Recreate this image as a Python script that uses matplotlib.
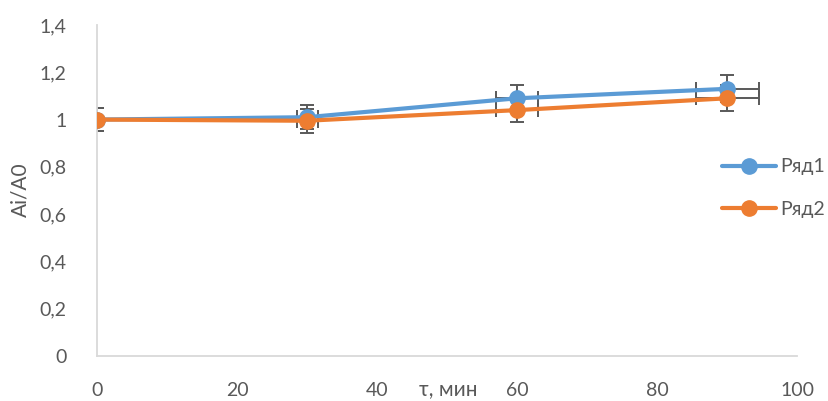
import numpy as np
import matplotlib as mpl
mpl.use('Agg')
import matplotlib.pyplot as plt
from matplotlib.ticker import FuncFormatter

# Measured ratio Ai/A0 over time
time_min = [0, 30, 60, 90]
series1 = [1.0, 1.01, 1.09, 1.13]
series2 = [1.0, 0.995, 1.04, 1.09]
series_names = ['Ряд1', 'Ряд2']
err_pct = 0.05  # 5% error bars on both axes

blue = '#5B9BD5'
orange = '#ED7D31'
text_col = '#595959'
axis_col = '#D9D9D9'

plt.rcParams['font.family'] = ['Lato', 'DejaVu Sans']

fig = plt.figure(figsize=(8.29, 4.01), dpi=100)
ax = fig.add_axes([97 / 829, 1 - 356 / 401, 700 / 829, 331 / 401])

for ys, col, name in [(series1, blue, series_names[0]), (series2, orange, series_names[1])]:
    x = np.array(time_min, dtype=float)
    y = np.array(ys)
    ax.errorbar(x, y, xerr=x * err_pct, yerr=y * err_pct, fmt='none',
                ecolor='#595959', elinewidth=1.4, capsize=5, capthick=1.4, zorder=2)
    ax.plot(x, y, color=col, lw=3, marker='o', ms=11, label=name,
            solid_capstyle='round', zorder=3)

ax.set_xlim(0, 100)
ax.set_ylim(0, 1.4)
ax.set_xticks(range(0, 101, 20))
ax.set_yticks(np.arange(0, 1.41, 0.2))

def comma_fmt(v, pos):
    s = ('%.1f' % v).rstrip('0').rstrip('.')
    return s.replace('.', ',')

ax.yaxis.set_major_formatter(FuncFormatter(comma_fmt))
ax.tick_params(axis='both', length=0, labelsize=14, colors=text_col)
ax.tick_params(axis='x', pad=19)
ax.tick_params(axis='y', pad=22)

for side in ['top', 'right']:
    ax.spines[side].set_visible(False)
for side in ['left', 'bottom']:
    ax.spines[side].set_color(axis_col)
    ax.spines[side].set_linewidth(1.3)

fig.text(448 / 829, 1 - 389 / 401, 'τ, мин', fontsize=15, color=text_col,
         ha='center', va='center')
fig.text(20 / 829, 1 - 190 / 401, 'Ai/A0', fontsize=15, color=text_col,
         ha='center', va='center', rotation=90)

leg = fig.legend(loc='center left', bbox_to_anchor=(722 / 829, 1 - 188 / 401),
                 frameon=False, fontsize=14, handlelength=2.8, handletextpad=0.2,
                 labelspacing=1.3, borderpad=0, borderaxespad=0)
for t in leg.get_texts():
    t.set_color(text_col)

fig.savefig('out.png', dpi=100)
